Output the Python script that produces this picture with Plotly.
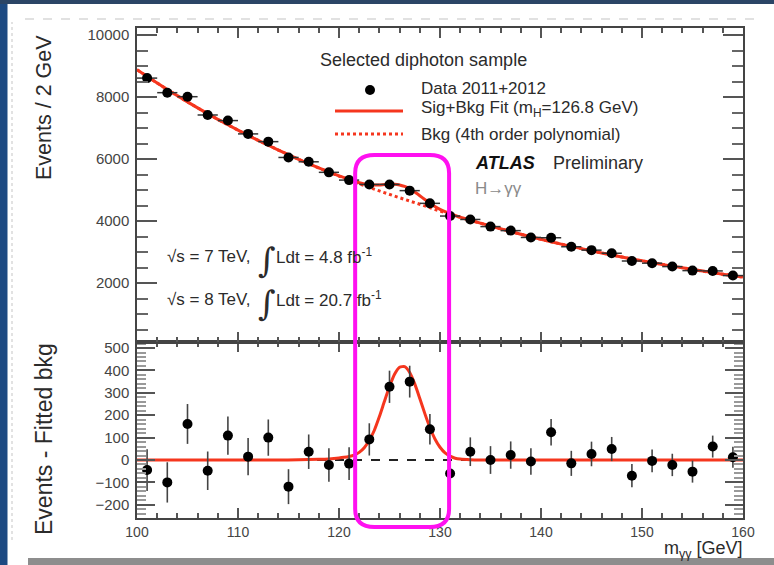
import numpy as np
import plotly.graph_objects as go

# ---------------- data ----------------
mass = [101, 103, 105, 107, 109, 111, 113, 115, 117, 119,
        121, 123, 125, 127, 129, 131, 133, 135, 137, 139,
        141, 143, 145, 147, 149, 151, 153, 155, 157, 159]
events = [8610, 8140, 8010, 7420, 7240, 6810, 6560, 6050, 5910, 5570,
          5320, 5180, 5180, 4980, 4570, 4160, 4050, 3820, 3690, 3470,
          3460, 3170, 3060, 2960, 2710, 2640, 2530, 2400, 2390, 2240]
event_err = [93, 90, 89, 86, 85, 83, 81, 78, 77, 75,
             73, 72, 72, 71, 68, 65, 64, 62, 61, 59,
             59, 56, 55, 54, 52, 51, 50, 49, 49, 47]
residual = [-45, -100, 161, -48, 109, 15, 100, -119, 37, -22,
            -16, 92, 327, 350, 137, -60, 37, 0, 22, -7,
            124, -15, 27, 49, -70, -4, -22, -52, 60, 12]
bin_half_width = [1] * len(mass)

# background fit (4th order polynomial)
bkg_x = [100, 102, 104, 106, 108, 110, 112, 114, 116, 118, 120,
         122, 124, 126, 128, 130, 132, 134, 136, 138, 140,
         142, 144, 146, 148, 150, 152, 154, 156, 158, 160]
bkg_y = [8880, 8450, 8040, 7650, 7280, 6930, 6600, 6290, 5990, 5710, 5450,
         5200, 4970, 4750, 4540, 4320, 4120, 3930, 3750, 3575, 3410,
         3255, 3110, 2970, 2840, 2715, 2600, 2490, 2385, 2285, 2190]

# signal component of the fit (Sig+Bkg minus Bkg)
sig_x = [100, 108, 114, 116, 118, 119, 120, 120.5, 121, 121.5, 122, 122.5,
         123, 123.5, 124, 124.5, 125, 125.5, 126, 126.5, 127, 127.5,
         128, 128.5, 129, 129.5, 130, 130.5, 131, 131.5, 132, 133,
         134, 136, 140, 150, 160]
sig_y = [0, 0, 0, 1, 3, 5, 9, 12, 16, 22, 34, 55,
         88, 133, 194, 262, 328, 383, 414, 417, 391, 340,
         275, 207, 145, 94, 57, 32, 17, 8, 4, 1,
         0, 0, 0, 0, 0]

upper_ticks = [2000, 4000, 6000, 8000, 10000]
lower_ticks = [-200, -100, 0, 100, 200, 300, 400, 500]
x_ticks = [100, 110, 120, 130, 140, 150, 160]

# ---------------- geometry helpers ----------------
W, H = 774, 565
L, R, T, B = 137, 743, 28, 518      # plot area in pixels
SPLIT = 342                          # boundary between the two panels


def px(X):
    return (X - L) / (R - L)


def py(Y):
    return (B - Y) / (B - T)


lower_dom = [0, py(SPLIT)]
upper_dom = [py(SPLIT), 1]

RED = "#f5361e"
FONT = "Liberation Sans, Arial, sans-serif"
TXT = "#2b2b2b"

# combined Sig+Bkg curve from the two fitted components
comb_x = np.union1d(np.array(bkg_x, float), np.array(sig_x, float))
comb_y = np.interp(comb_x, bkg_x, bkg_y) + np.interp(comb_x, sig_x, sig_y)

fig = go.Figure()

# ---------- upper panel ----------
fig.add_trace(go.Scatter(x=bkg_x, y=bkg_y, mode="lines", xaxis="x2", yaxis="y2",
                         line=dict(color=RED, width=3, dash="dot", shape="spline"),
                         showlegend=False, hoverinfo="skip"))
fig.add_trace(go.Scatter(x=comb_x, y=comb_y, mode="lines", xaxis="x2", yaxis="y2",
                         line=dict(color=RED, width=3, shape="spline", smoothing=0.6),
                         showlegend=False, hoverinfo="skip"))
fig.add_trace(go.Scatter(x=mass, y=events, mode="markers", xaxis="x2", yaxis="y2",
                         marker=dict(color="black", size=10),
                         error_x=dict(type="data", array=bin_half_width, color="#333",
                                      thickness=1.5, width=0),
                         error_y=dict(type="data", array=event_err, color="#333",
                                      thickness=1.5, width=0),
                         showlegend=False))

# ---------- lower panel ----------
fig.add_trace(go.Scatter(x=[bkg_x[0], bkg_x[-1]], y=[0, 0], mode="lines",
                         line=dict(color="#222", width=2, dash="dash"),
                         showlegend=False, hoverinfo="skip"))
fig.add_trace(go.Scatter(x=sig_x, y=sig_y, mode="lines",
                         line=dict(color=RED, width=3, shape="spline", smoothing=0.6),
                         showlegend=False, hoverinfo="skip"))
fig.add_trace(go.Scatter(x=mass, y=residual, mode="markers",
                         marker=dict(color="black", size=10),
                         error_y=dict(type="data", array=event_err, color="#444",
                                      thickness=1.6, width=0),
                         showlegend=False))

axis_common = dict(showline=True, linecolor="#444", linewidth=1.5, mirror="ticks",
                   ticks="inside", tickcolor="#555", showgrid=False, zeroline=False,
                   tickfont=dict(family=FONT, size=15, color="#444"))

fig.update_layout(
    width=W, height=H,
    margin=dict(l=L, r=W - R, t=T, b=H - B),
    paper_bgcolor="white", plot_bgcolor="white",
    showlegend=False,
    xaxis=dict(**{**axis_common, "tickfont": dict(family=FONT, size=14, color="#444")},
               anchor="y", domain=[0, 1], range=[100, 160],
               tickvals=x_ticks, ticklen=10, tickwidth=1.5,
               minor=dict(dtick=2, tick0=100, ticklen=5, ticks="inside", tickcolor="#555")),
    yaxis=dict(**axis_common, anchor="x", domain=lower_dom, range=[-259, 527],
               tickvals=lower_ticks, ticklen=18, tickwidth=1.5, ticklabelstandoff=3,
               minor=dict(dtick=20, tick0=0, ticklen=9, ticks="inside", tickcolor="#999")),
    xaxis2=dict(**axis_common, anchor="y2", domain=[0, 1], range=[100, 160],
                matches="x", showticklabels=False,
                tickvals=x_ticks, ticklen=10, tickwidth=1.5,
                minor=dict(dtick=2, tick0=100, ticklen=5, ticks="inside", tickcolor="#555")),
    yaxis2=dict(**axis_common, anchor="x2", domain=upper_dom, range=[97, 10226],
                tickvals=upper_ticks, tickformat="d", ticklen=20, tickwidth=1.5,
                ticklabelstandoff=3,
                minor=dict(dtick=500, tick0=0, ticklen=11, ticks="inside", tickcolor="#666")),
)

# ---------- background "paper" decorations ----------
shapes = [
    dict(type="rect", xref="paper", yref="paper", layer="below",
         x0=px(0), x1=px(7.5), y0=py(H), y1=py(0),
         fillcolor="#1d4a82", line=dict(width=0)),
    dict(type="rect", xref="paper", yref="paper", layer="below",
         x0=px(0), x1=px(W), y0=py(4), y1=py(0),
         fillcolor="#2b4566", line=dict(width=0)),
    dict(type="rect", xref="paper", yref="paper", layer="below",
         x0=px(28), x1=px(W), y0=py(H), y1=py(558),
         fillcolor="#8d8d8d", line=dict(width=0)),
    dict(type="line", xref="paper", yref="paper", layer="below",
         x0=px(25), x1=px(760), y0=py(19), y1=py(19),
         line=dict(color="#c4c4c4", width=1.2, dash="dash")),
    dict(type="line", xref="paper", yref="paper", layer="below",
         x0=px(12), x1=px(12), y0=py(540), y1=py(22),
         line=dict(color="#cfcfcf", width=1.2, dash="dot")),
]

# legend samples
shapes += [
    dict(type="circle", xref="paper", yref="paper",
         x0=px(365), x1=px(375), y0=py(95), y1=py(85),
         fillcolor="black", line=dict(width=0)),
    dict(type="line", xref="paper", yref="paper",
         x0=px(335), x1=px(403), y0=py(111), y1=py(111),
         line=dict(color=RED, width=3)),
    dict(type="line", xref="paper", yref="paper",
         x0=px(335), x1=px(403), y0=py(134), y1=py(134),
         line=dict(color=RED, width=3, dash="dot")),
]

# magenta highlight box around the signal region (x in data units)
xl, xr = 121.6, 130.9
yt, yb = py(155), py(527)
rx, ry = 1.9, 18 / (B - T)
path = (f"M {xl},{yt - ry} Q {xl},{yt} {xl + rx},{yt} "
        f"L {xr - rx},{yt} Q {xr},{yt} {xr},{yt - ry} "
        f"L {xr},{yb + ry} Q {xr},{yb} {xr - rx},{yb} "
        f"L {xl + rx},{yb} Q {xl},{yb} {xl},{yb + ry} Z")
shapes.append(dict(type="path", xref="x", yref="paper", path=path,
                   line=dict(color="#ff10f0", width=4)))
fig.update_layout(shapes=shapes)


def note(text, X, Y, size=18, color=TXT, xanchor="left", textangle=0, family=FONT):
    fig.add_annotation(text=text, x=px(X), y=py(Y), xref="paper", yref="paper",
                       xanchor=xanchor, yanchor="middle", showarrow=False,
                       textangle=textangle,
                       font=dict(family=family, size=size, color=color))


# axis titles
note("Events / 2 GeV", 44, 108, size=21.5, xanchor="center", textangle=-90)
note("Events - Fitted bkg", 44, 439, size=23, xanchor="center", textangle=-90)
note("m<sub>γγ</sub> [GeV]", 745, 549, size=18, xanchor="right")

# header and legend text
note("Selected diphoton sample", 318, 60, size=18)
note("Data 2011+2012", 419, 88, size=17)
note("Sig+Bkg Fit (m<sub>H</sub>=126.8 GeV)", 419, 109, size=17)
note("Bkg (4th order polynomial)", 419, 134, size=17)
note("<b><i>ATLAS</i></b>", 473, 163, size=18, color="#111")
note("Preliminary", 551, 163, size=18)
note("H→γγ", 473, 188, size=17, color="#8a8a8a")

# luminosity labels
note("√s = 7 TeV,", 165, 256, size=17)
note("∫", 267, 260, size=34, xanchor="center", family="DejaVu Serif")
note("Ldt = 4.8 fb<sup>-1</sup>", 274, 256, size=17)
note("√s = 8 TeV,", 165, 299, size=17)
note("∫", 267, 303, size=34, xanchor="center", family="DejaVu Serif")
note("Ldt = 20.7 fb<sup>-1</sup>", 274, 299, size=17)

fig.write_html(
    "out.html",
    config={"displayModeBar": False},
    post_script="document.body.style.margin='0px';document.body.style.overflow='hidden';",
)
